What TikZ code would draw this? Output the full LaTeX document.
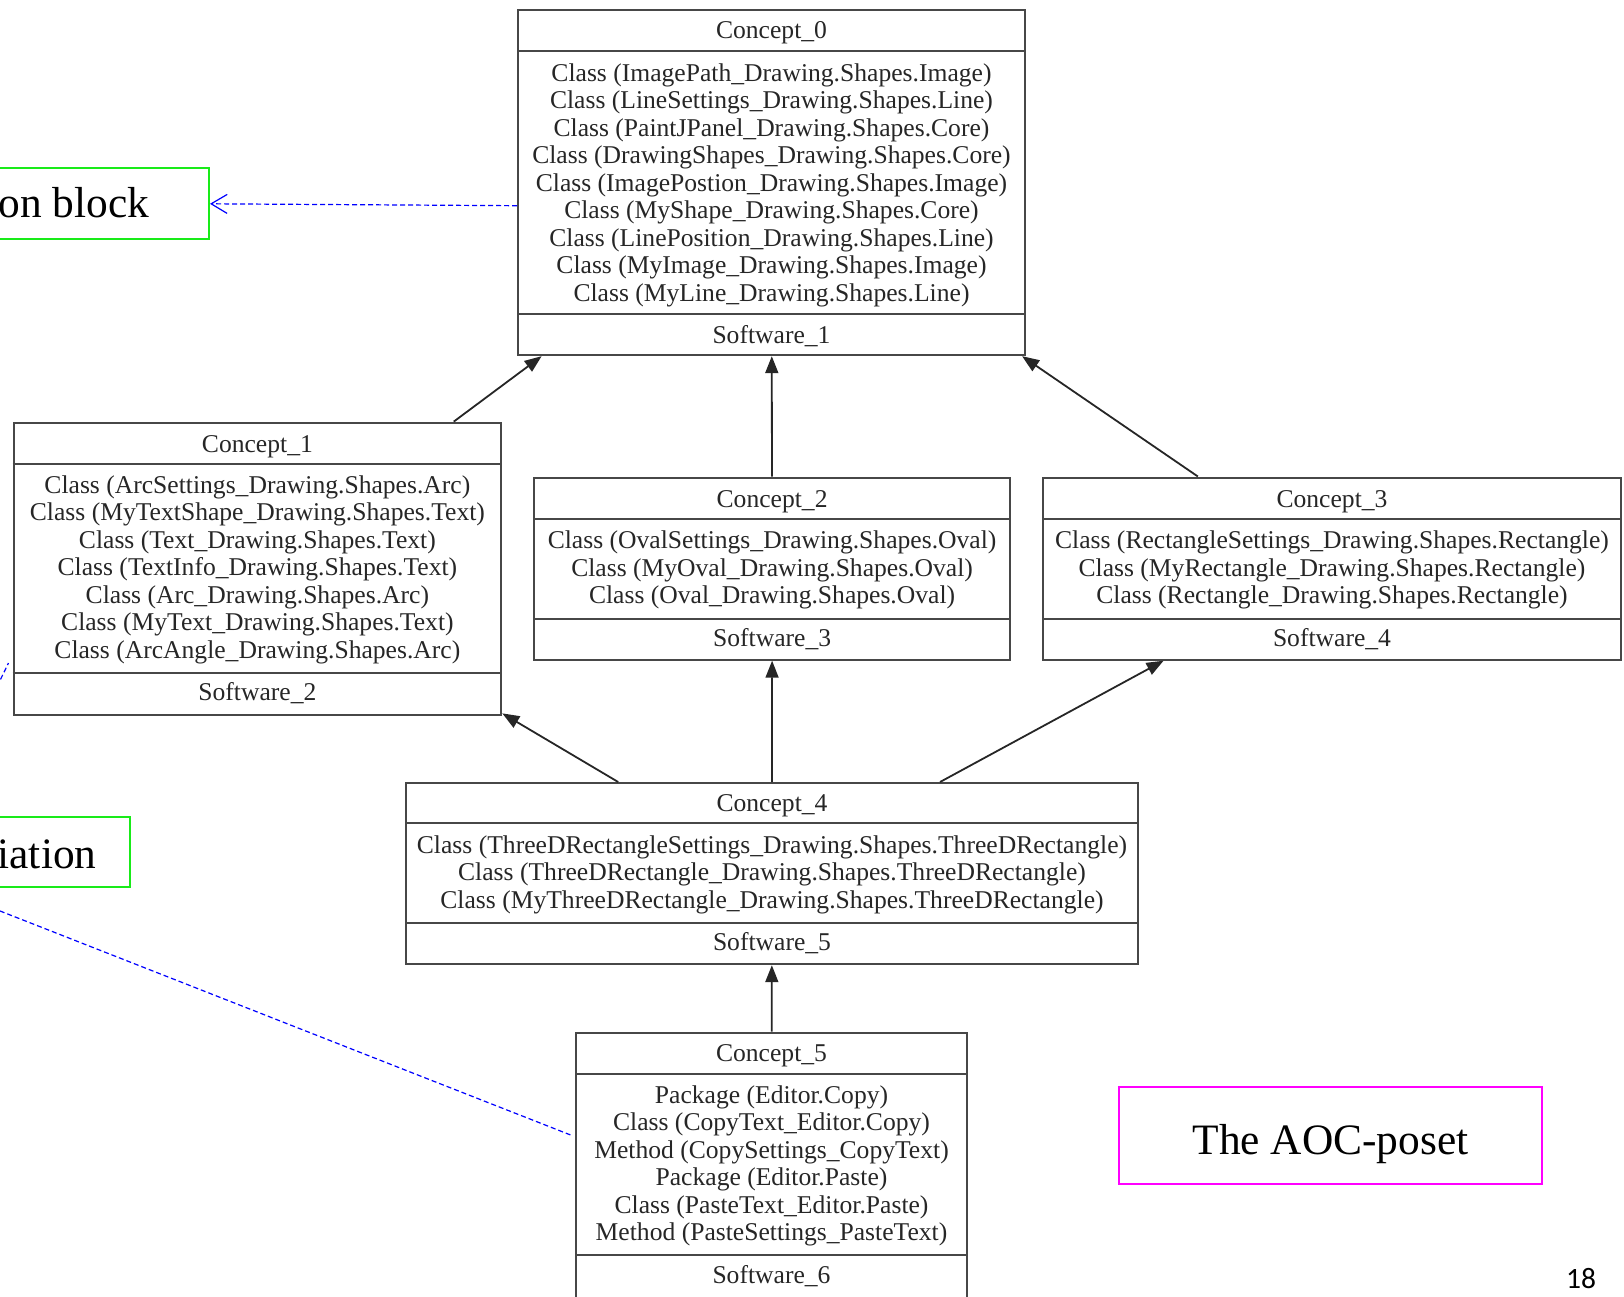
\documentclass[tikz,border=0pt]{standalone}
\usepackage{fontspec}
\setmainfont{Liberation Serif}
\newfontfamily\pagenumfont{Carlito}
\usetikzlibrary{calc,arrows.meta}

\definecolor{notegreen}{RGB}{25,235,25}
\definecolor{notemagenta}{RGB}{255,0,255}
\definecolor{linkblue}{RGB}{0,0,255}

\begin{document}
\begin{tikzpicture}[x=1pt,y=-1pt,
  cbox/.style={draw=black!72, line width=2pt, inner sep=0pt, fill=none},
  sepline/.style={draw=black!72, line width=2pt},
  ctext/.style={text=black!85, font=\fontsize{25.6}{27.45}\selectfont, align=center, inner sep=0pt},
  isa/.style={draw=black!85, line width=1.8pt, -{Triangle[length=17pt,width=13pt]}},
  notebox/.style={line width=2pt, inner sep=0pt},
  notetext/.style={font=\fontsize{43.4}{48}\selectfont, inner sep=0pt, text=black},
  link/.style={draw=linkblue, line width=1.2pt, dash pattern=on 5pt off 3pt},
]
\useasboundingbox (0,0) rectangle (1624,1296);

% ---------- concept boxes ----------
\node[cbox, minimum width=507pt, minimum height=344.8pt] (c0) at (771.5,182.8) {};
\node[cbox, minimum width=487.8pt, minimum height=292pt] (c1) at (257.4,568.6) {};
\node[cbox, minimum width=475.4pt, minimum height=182.2pt] (c2) at (772.1,568.6) {};
\node[cbox, minimum width=578pt, minimum height=182.2pt] (c3) at (1332,568.6) {};
\node[cbox, minimum width=732pt, minimum height=181.2pt] (c4) at (772,873.6) {};
\node[cbox, minimum width=391pt, minimum height=266.4pt] (c5) at (771.5,1165.8) {};

% compartment separators
\foreach \c/\t/\b in {c0/41.4/42.4, c1/42.4/42.4, c2/42.4/41.4, c3/42.4/41.4, c4/41.4/42.4, c5/42.4/45.4}{
  \draw[sepline] ($(\c.north west)+(0,\t)$) -- ($(\c.north east)+(0,\t)$);
  \draw[sepline] ($(\c.south west)+(0,-\b)$) -- ($(\c.south east)+(0,-\b)$);
}

% Concept_0
\node[ctext] (c0n) at (771.5,33) {Concept\_0};
\node[ctext] (c0a) at (771.5,185.1) {Class (ImagePath\_Drawing.Shapes.Image)\\
  Class (LineSettings\_Drawing.Shapes.Line)\\
  Class (PaintJPanel\_Drawing.Shapes.Core)\\
  Class (DrawingShapes\_Drawing.Shapes.Core)\\
  Class (ImagePostion\_Drawing.Shapes.Image)\\
  Class (MyShape\_Drawing.Shapes.Core)\\
  Class (LinePosition\_Drawing.Shapes.Line)\\
  Class (MyImage\_Drawing.Shapes.Image)\\
  Class (MyLine\_Drawing.Shapes.Line)};
\node[ctext] (c0s) at (771.5,336.5) {Software\_1};

% Concept_1
\node[ctext] (c1n) at (257.4,446.6) {Concept\_1};
\node[ctext] (c1a) at (257.4,569.6) {Class (ArcSettings\_Drawing.Shapes.Arc)\\
  Class (MyTextShape\_Drawing.Shapes.Text)\\
  Class (Text\_Drawing.Shapes.Text)\\
  Class (TextInfo\_Drawing.Shapes.Text)\\
  Class (Arc\_Drawing.Shapes.Arc)\\
  Class (MyText\_Drawing.Shapes.Text)\\
  Class (ArcAngle\_Drawing.Shapes.Arc)};
\node[ctext] (c1s) at (257.4,693.5) {Software\_2};

% Concept_2
\node[ctext] (c2n) at (772.1,501.4) {Concept\_2};
\node[ctext] (c2a) at (772.1,570) {Class (OvalSettings\_Drawing.Shapes.Oval)\\
  Class (MyOval\_Drawing.Shapes.Oval)\\
  Class (Oval\_Drawing.Shapes.Oval)};
\node[ctext] (c2s) at (772.1,639) {Software\_3};

% Concept_3
\node[ctext] (c3n) at (1332,501.4) {Concept\_3};
\node[ctext] (c3a) at (1332,570) {Class (RectangleSettings\_Drawing.Shapes.Rectangle)\\
  Class (MyRectangle\_Drawing.Shapes.Rectangle)\\
  Class (Rectangle\_Drawing.Shapes.Rectangle)};
\node[ctext] (c3s) at (1332,639) {Software\_4};

% Concept_4
\node[ctext] (c4n) at (772,805.8) {Concept\_4};
\node[ctext] (c4a) at (772,874.5) {Class (ThreeDRectangleSettings\_Drawing.Shapes.ThreeDRectangle)\\
  Class (ThreeDRectangle\_Drawing.Shapes.ThreeDRectangle)\\
  Class (MyThreeDRectangle\_Drawing.Shapes.ThreeDRectangle)};
\node[ctext] (c4s) at (772,943.5) {Software\_5};

% Concept_5
\node[ctext] (c5n) at (771.5,1055.6) {Concept\_5};
\node[ctext] (c5a) at (771.5,1166) {Package (Editor.Copy)\\
  Class (CopyText\_Editor.Copy)\\
  Method (CopySettings\_CopyText)\\
  Package (Editor.Paste)\\
  Class (PasteText\_Editor.Paste)\\
  Method (PasteSettings\_PasteText)};
\node[ctext] (c5s) at (771.5,1275.8) {Software\_6};

% ---------- order relations ----------
\draw[isa] (c1) -- (c0);
\draw[isa] (c2) -- (c0);
\draw[isa] (c3) -- (c0);
\draw[isa] (c4) -- (c1);
\draw[isa] (c4) -- (c2);
\draw[isa] (c4) -- (c3);
\draw[isa] (c5) -- (c4);

% ---------- callouts ----------
\node[notebox, draw=notegreen, minimum width=229pt, minimum height=71pt] (n1) at (94.5,203.8) {};
\node[notetext, anchor=base east] (n1t) at (149.5,217.7) {on block};

\node[notebox, draw=notegreen, minimum width=150pt, minimum height=70.6pt] (n2) at (54.5,852) {};
\node[notetext, anchor=base east] (n2t) at (96.7,868.3) {iation};

\node[notebox, draw=notemagenta, minimum width=423pt, minimum height=97pt] (n3) at (1330.5,1135.6) {};
\node[notetext, anchor=base] (n3t) at (1330.5,1154) {The AOC-poset};

\coordinate (a1) at ($(c0.north west)+(0,196.3)$);
\draw[link, -{Straight Barb[length=16pt,width=19pt]}] (a1) -- (n1.east);

\coordinate (d2s) at (-30,899.2);
\coordinate (d2e) at ($(c5.north west)+(-4.3,103.4)$);
\draw[link] (d2s) -- (d2e);

\coordinate (d3s) at (-10,701);
\coordinate (d3e) at ($(c1.south west)+(-4,-52.6)$);
\draw[link] (d3s) -- (d3e);

% page number
\node[font=\pagenumfont\fontsize{29.5}{32}\selectfont, anchor=base west, inner sep=0pt] (pg) at (1566,1288.3) {18};
\end{tikzpicture}
\end{document}
